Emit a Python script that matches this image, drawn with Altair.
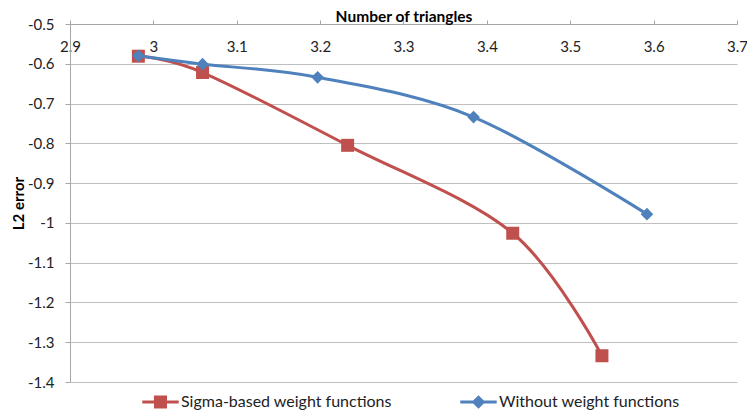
import altair as alt
import pandas as pd

# ---- data ----
series_names = ["Sigma-based weight functions", "Without weight functions"]
x_sigma = [2.982, 3.059, 3.233, 3.431, 3.538]
y_sigma = [-0.581, -0.622, -0.805, -1.026, -1.334]
x_without = [2.982, 3.059, 3.197, 3.384, 3.592]
y_without = [-0.580, -0.601, -0.634, -0.734, -0.978]
x_ticks = [2.9, 3.0, 3.1, 3.2, 3.3, 3.4, 3.5, 3.6, 3.7]
y_ticks = [-0.5, -0.6, -0.7, -0.8, -0.9, -1.0, -1.1, -1.2, -1.3, -1.4]
colors = ["#c0504d", "#4f81bd"]

df = pd.DataFrame(
    {
        "x": x_sigma + x_without,
        "y": y_sigma + y_without,
        "series": [series_names[0]] * len(x_sigma) + [series_names[1]] * len(x_without),
        "order": list(range(len(x_sigma))) + list(range(len(x_without))),
    }
)

FONT = "Lato"

# legend glyphs: a line with a marker on it (Excel style)
legend_paths = [
    "M-2.8,-0.23H2.8V0.23H-2.8Z M-1,-1H1V1H-1Z",
    "M-2.8,-0.23H2.8V0.23H-2.8Z M0,-1.05L1.05,0L0,1.05L-1.05,0Z",
]

x_enc = alt.X(
    "x:Q",
    scale=alt.Scale(domain=[2.9, 3.7], nice=False, zero=False),
    axis=alt.Axis(
        orient="top",
        values=x_ticks,
        labelExpr="'' + datum.value",
        title="Number of triangles",
        titleFont=FONT,
        titleFontSize=15.5,
        titleFontWeight="bold",
        titleColor="#000000",
        titleY=-15,
        titleBaseline="top",
        labelFont=FONT,
        labelFontSize=15,
        labelColor="#222222",
        labelFlush=False,
        labelBaseline="middle",
        labelPadding=-26,
        tickSize=4,
        tickColor="#a6a6a6",
        domainColor="#a6a6a6",
        grid=False,
    ),
)
y_enc = alt.Y(
    "y:Q",
    scale=alt.Scale(domain=[-1.4, -0.5], nice=False, zero=False),
    axis=alt.Axis(
        values=y_ticks,
        labelExpr="'' + datum.value",
        title="L2 error",
        titleFont=FONT,
        titleFontSize=15,
        titleFontWeight="bold",
        titleColor="#000000",
        titleX=-52,
        titleY=179,
        titleBaseline="middle",
        labelFont=FONT,
        labelFontSize=15,
        labelColor="#222222",
        labelPadding=11,
        tickSize=5,
        tickColor="#a6a6a6",
        domainColor="#a6a6a6",
        grid=True,
        gridColor="#bfbfbf",
    ),
)
color_scale = alt.Scale(domain=series_names, range=colors)

base = alt.Chart(df).encode(x=x_enc, y=y_enc)
sig = base.transform_filter(alt.datum.series == series_names[0])
wo = base.transform_filter(alt.datum.series == series_names[1])

red_line = sig.mark_line(interpolate="cardinal", strokeWidth=3, color=colors[0]).encode(order="order:Q")
blue_line = wo.mark_line(interpolate="cardinal", strokeWidth=3, color=colors[1]).encode(order="order:Q")
red_pts = sig.mark_point(shape="square", filled=True, size=169, opacity=1, color=colors[0])
blue_pts = wo.mark_point(shape="diamond", filled=True, size=160, opacity=1, color=colors[1])

legend_kw = dict(
    title=None,
    orient="none",
    legendX=82.5,
    legendY=370,
    direction="horizontal",
    columns=2,
    columnPadding=67,
    padding=0,
    symbolSize=169,
    symbolStrokeWidth=0,
    symbolOpacity=1,
    labelOffset=12.5,
    labelLimit=0,
    labelFont=FONT,
    labelFontSize=16,
    labelColor="#222222",
)

legend_layer = base.mark_point(filled=True, opacity=0, size=169).encode(
    color=alt.Color("series:N", scale=color_scale, legend=alt.Legend(**legend_kw)),
    shape=alt.Shape(
        "series:N",
        scale=alt.Scale(domain=series_names, range=legend_paths),
        legend=alt.Legend(**legend_kw),
    ),
)

chart = (
    alt.layer(red_line, red_pts, blue_line, blue_pts, legend_layer)
    .properties(
        width=667,
        height=358,
        autosize=alt.AutoSizeParams(type="none"),
        padding={"left": 62, "top": 16, "right": 10, "bottom": 32},
        background="#ffffff",
    )
    .configure_view(stroke=None)
)

chart.save("out.html", embed_options={"renderer": "svg", "actions": False})
